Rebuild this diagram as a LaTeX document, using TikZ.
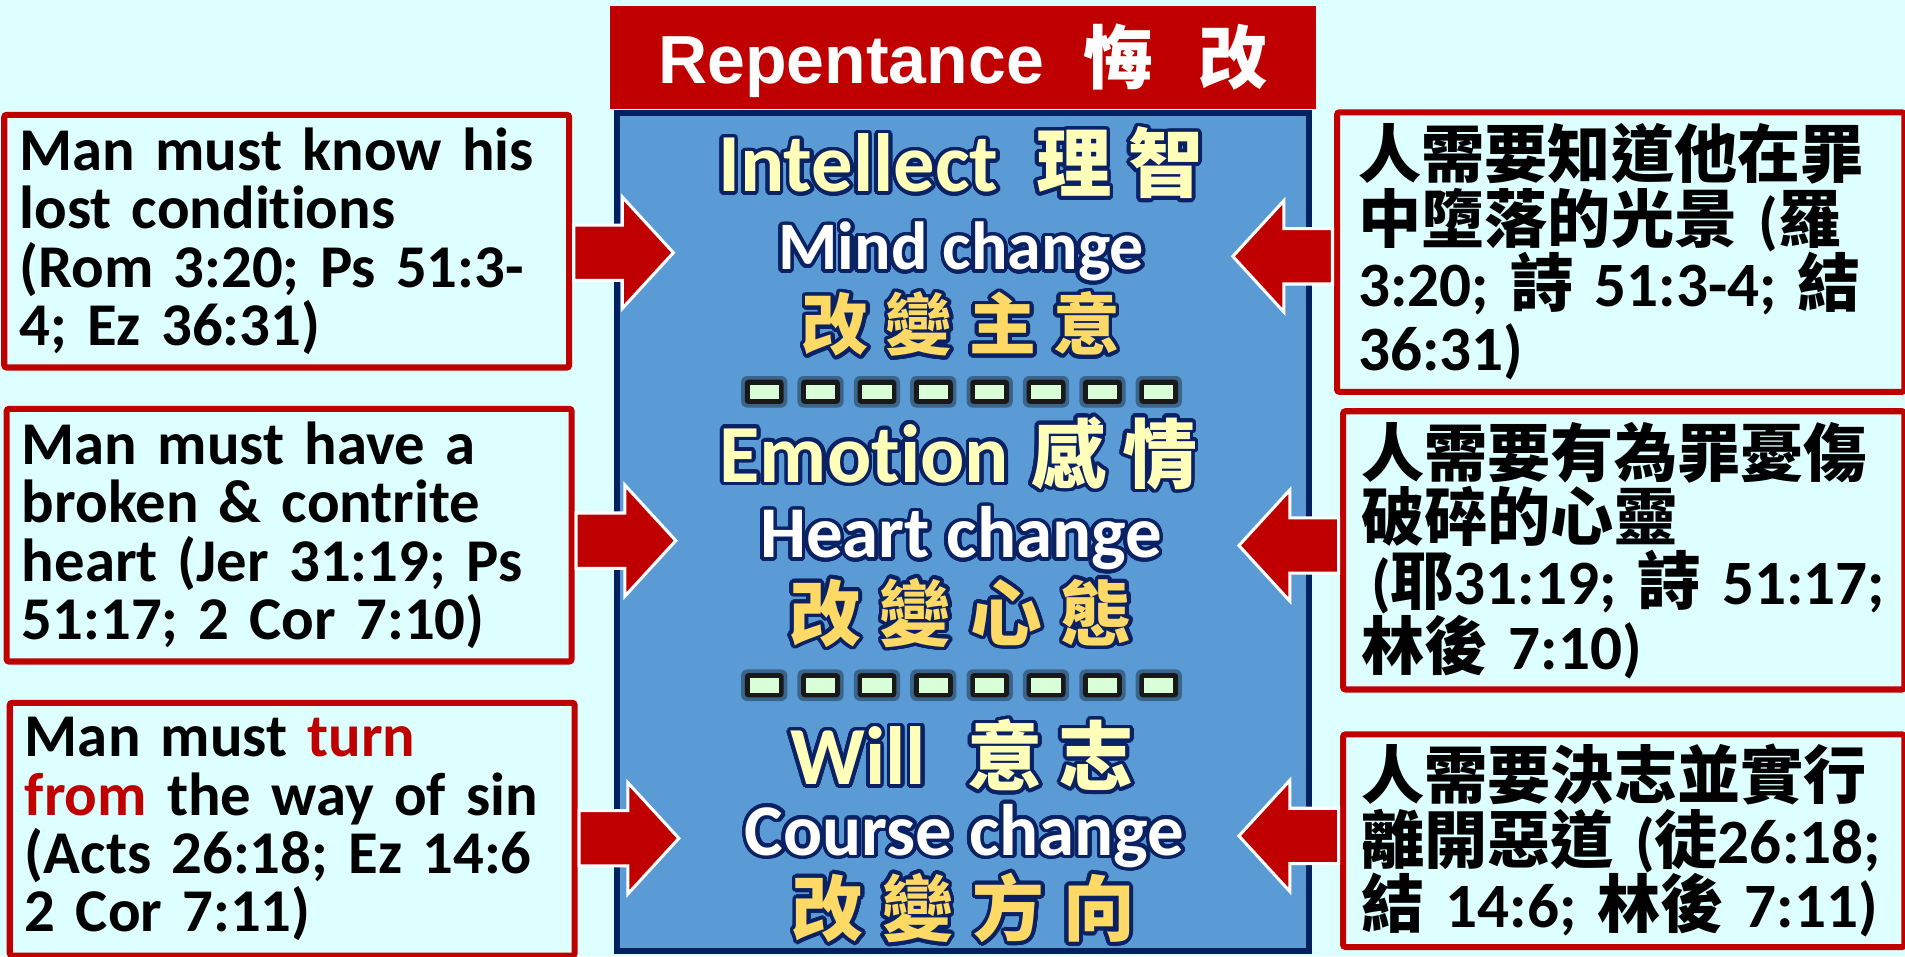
\documentclass[tikz,border=0pt]{standalone}
\usepackage{fontspec}
\setmainfont{Carlito}[Ligatures=NoCommon]
\newfontfamily\cjk{Noto Sans CJK TC}
\newfontfamily\titlefont{Liberation Sans}
\usepackage{contour}
\contourlength{3pt}
\contournumber{32}
\usetikzlibrary{shapes.arrows, calc}
\definecolor{bgcyan}{HTML}{DDFFFF}
\definecolor{boxred}{HTML}{C00000}
\definecolor{corefill}{HTML}{5B9BD5}
\definecolor{coreline}{HTML}{002060}
\definecolor{glownavy}{HTML}{0A2263}
\definecolor{lemon}{HTML}{FFFFB9}
\definecolor{gold}{HTML}{FFD966}
\definecolor{mint}{HTML}{D9FFD9}
\newcommand\glow[1]{\contour{glownavy}{#1}}
\tikzset{
  lbox/.style={rectangle, draw=boxred, line width=5pt, fill=bgcyan, rounded corners=2pt, minimum width=465pt, minimum height=208pt, text width=440pt, inner xsep=12.5pt, align=left, font=\bfseries\fontsize{50}{48}\selectfont},
  rbox/.style={rectangle, draw=boxred, line width=5pt, fill=bgcyan, rounded corners=2pt, minimum width=462pt, text width=432pt, inner xsep=15pt, align=left, font=\bfseries\fontsize{52}{53}\selectfont},
  rarr/.style={single arrow, draw=white, line width=2.5pt, fill=boxred, minimum height=82pt, inner sep=0pt, inner ysep=21.5pt, single arrow head extend=23pt, single arrow tip angle=95},
  larr/.style={rarr, shape border rotate=180},
  headtxt/.style={anchor=base, inner sep=0pt, text=lemon, font=\bfseries\fontsize{68}{68}\selectfont},
  subtxt/.style={anchor=base, inner sep=0pt, text=white, font=\bfseries\fontsize{60}{60}\selectfont},
  zhtxt/.style={anchor=base, inner sep=0pt, text=gold, font=\bfseries\cjk\fontsize{59}{59}\selectfont},
}

\begin{document}
\begin{tikzpicture}[x=1pt,y=-1pt]
    \useasboundingbox (0,0) rectangle (1568,787);
    \clip (0,0) rectangle (1568,787);
    \fill[bgcyan] (0,0) rectangle (1568,787);

    \node[rectangle, draw=coreline, line width=5pt, fill=corefill, minimum width=570pt, minimum height=690pt] (core) at (792.5,438) {};
    \node[rectangle, fill=boxred, minimum width=581pt, minimum height=85pt, inner sep=0pt, text height=50pt, text depth=7pt, text=white, font=\titlefont\bfseries\fontsize{56}{56}\selectfont] (title) at (792.5,47.5) {Repentance\hspace{33pt}{\cjk\fontsize{57}{57}\selectfont 悔\hspace{37pt}改}};

    \node[lbox] (lk1) at (236,198.5) {Man must know his\\lost conditions\\(Rom 3:20; Ps 51:3-\\4; Ez 36:31)};
    \node[lbox] (lk2) at (238,440.5) {Man must have a\\broken \& contrite\\heart (Jer 31:19; Ps\\51:17; 2 Cor 7:10)};
    \node[lbox] (lk3) at (240.5,682.5) {Man must \textcolor{boxred}{turn}\\\textcolor{boxred}{from} the way of sin\\(Acts 26:18; Ez 14:6\\2 Cor 7:11)};

    \node[rbox, minimum width=467pt, minimum height=230pt] (rk1) at (1334,207.5) {{\cjk 人需要知道他在罪}\\{\cjk 中墮落的光景} ({\cjk 羅}\\3:20; {\cjk 詩} 51:3-4; {\cjk 結}\\36:31)};
    \node[rbox, minimum height=229pt] (rk2) at (1336.5,453) {{\cjk 人需要有為罪憂傷}\\{\cjk 破碎的心靈}\\\hspace*{8pt}({\cjk 耶}31:19; {\cjk 詩} 51:17;\\{\cjk 林後} 7:10)};
    \node[rbox, minimum height=175pt] (rk3) at (1336.5,692) {{\cjk 人需要決志並實行}\\{\cjk 離開惡道} ({\cjk 徒}26:18;\\{\cjk 結} 14:6; {\cjk 林後} 7:11)};

    \node[rarr, anchor=tail] (la1) at ($(lk1.east)+(0,9.5)$) {};
    \node[rarr, anchor=tail] (la2) at ($(lk2.east)+(0,4.5)$) {};
    \node[rarr, anchor=tail] (la3) at ($(lk3.east)+(0,7.5)$) {};
    \node[larr, anchor=tail] (ra1) at ($(rk1.west)+(0,3.5)$) {};
    \node[larr, anchor=tail] (ra2) at ($(rk2.west)+(0,-4)$) {};
    \node[larr, anchor=tail] (ra3) at ($(rk3.west)+(0,-4)$) {};

    \node[headtxt] (intel) at (791,158) {\glow{Intellect\hspace{31pt}{\cjk\fontsize{62}{62}\selectfont 理\hspace{14pt}智}}};
    \node[subtxt, font=\bfseries\fontsize{56}{56}\selectfont] (mind) at (791,222) {\glow{Mind change}};
    \node[zhtxt, font=\bfseries\cjk\fontsize{55}{55}\selectfont] (mindzh) at (791,288) {\glow{改\hspace{14pt}變\hspace{14pt}主\hspace{14pt}意}};

    \node[headtxt] (emo) at (789,397) {\glow{Emotion\hspace{18pt}{\cjk\fontsize{62}{62}\selectfont 感\hspace{13pt}情}}};
    \node[subtxt] (heart) at (791,459) {\glow{Heart change}};
    \node[zhtxt] (heartzh) at (791,527) {\glow{改\hspace{15.5pt}變\hspace{15.5pt}心\hspace{15.5pt}態}};

    \node[headtxt] (will) at (792,646) {\glow{Will\hspace{34pt}{\cjk\fontsize{62}{62}\selectfont 意\hspace{13pt}志}}};
    \node[subtxt] (course) at (794,704) {\glow{Course change}};
    \node[zhtxt] (coursezh) at (793,770) {\glow{改\hspace{15.5pt}變\hspace{15.5pt}方\hspace{15.5pt}向}};

    \foreach \yy in {322.5,564}
      \foreach \i in {0,...,7}{
        \fill[black, opacity=0.35, rounded corners=5pt] (610+46.4*\i,\yy-13) rectangle ++(38,26);
        \fill[black!90, rounded corners=3pt] (613+46.4*\i,\yy-10) rectangle ++(32,20);
        \fill[mint] (617+46.4*\i,\yy-6) rectangle ++(24,12);
      }
\end{tikzpicture}
\end{document}
